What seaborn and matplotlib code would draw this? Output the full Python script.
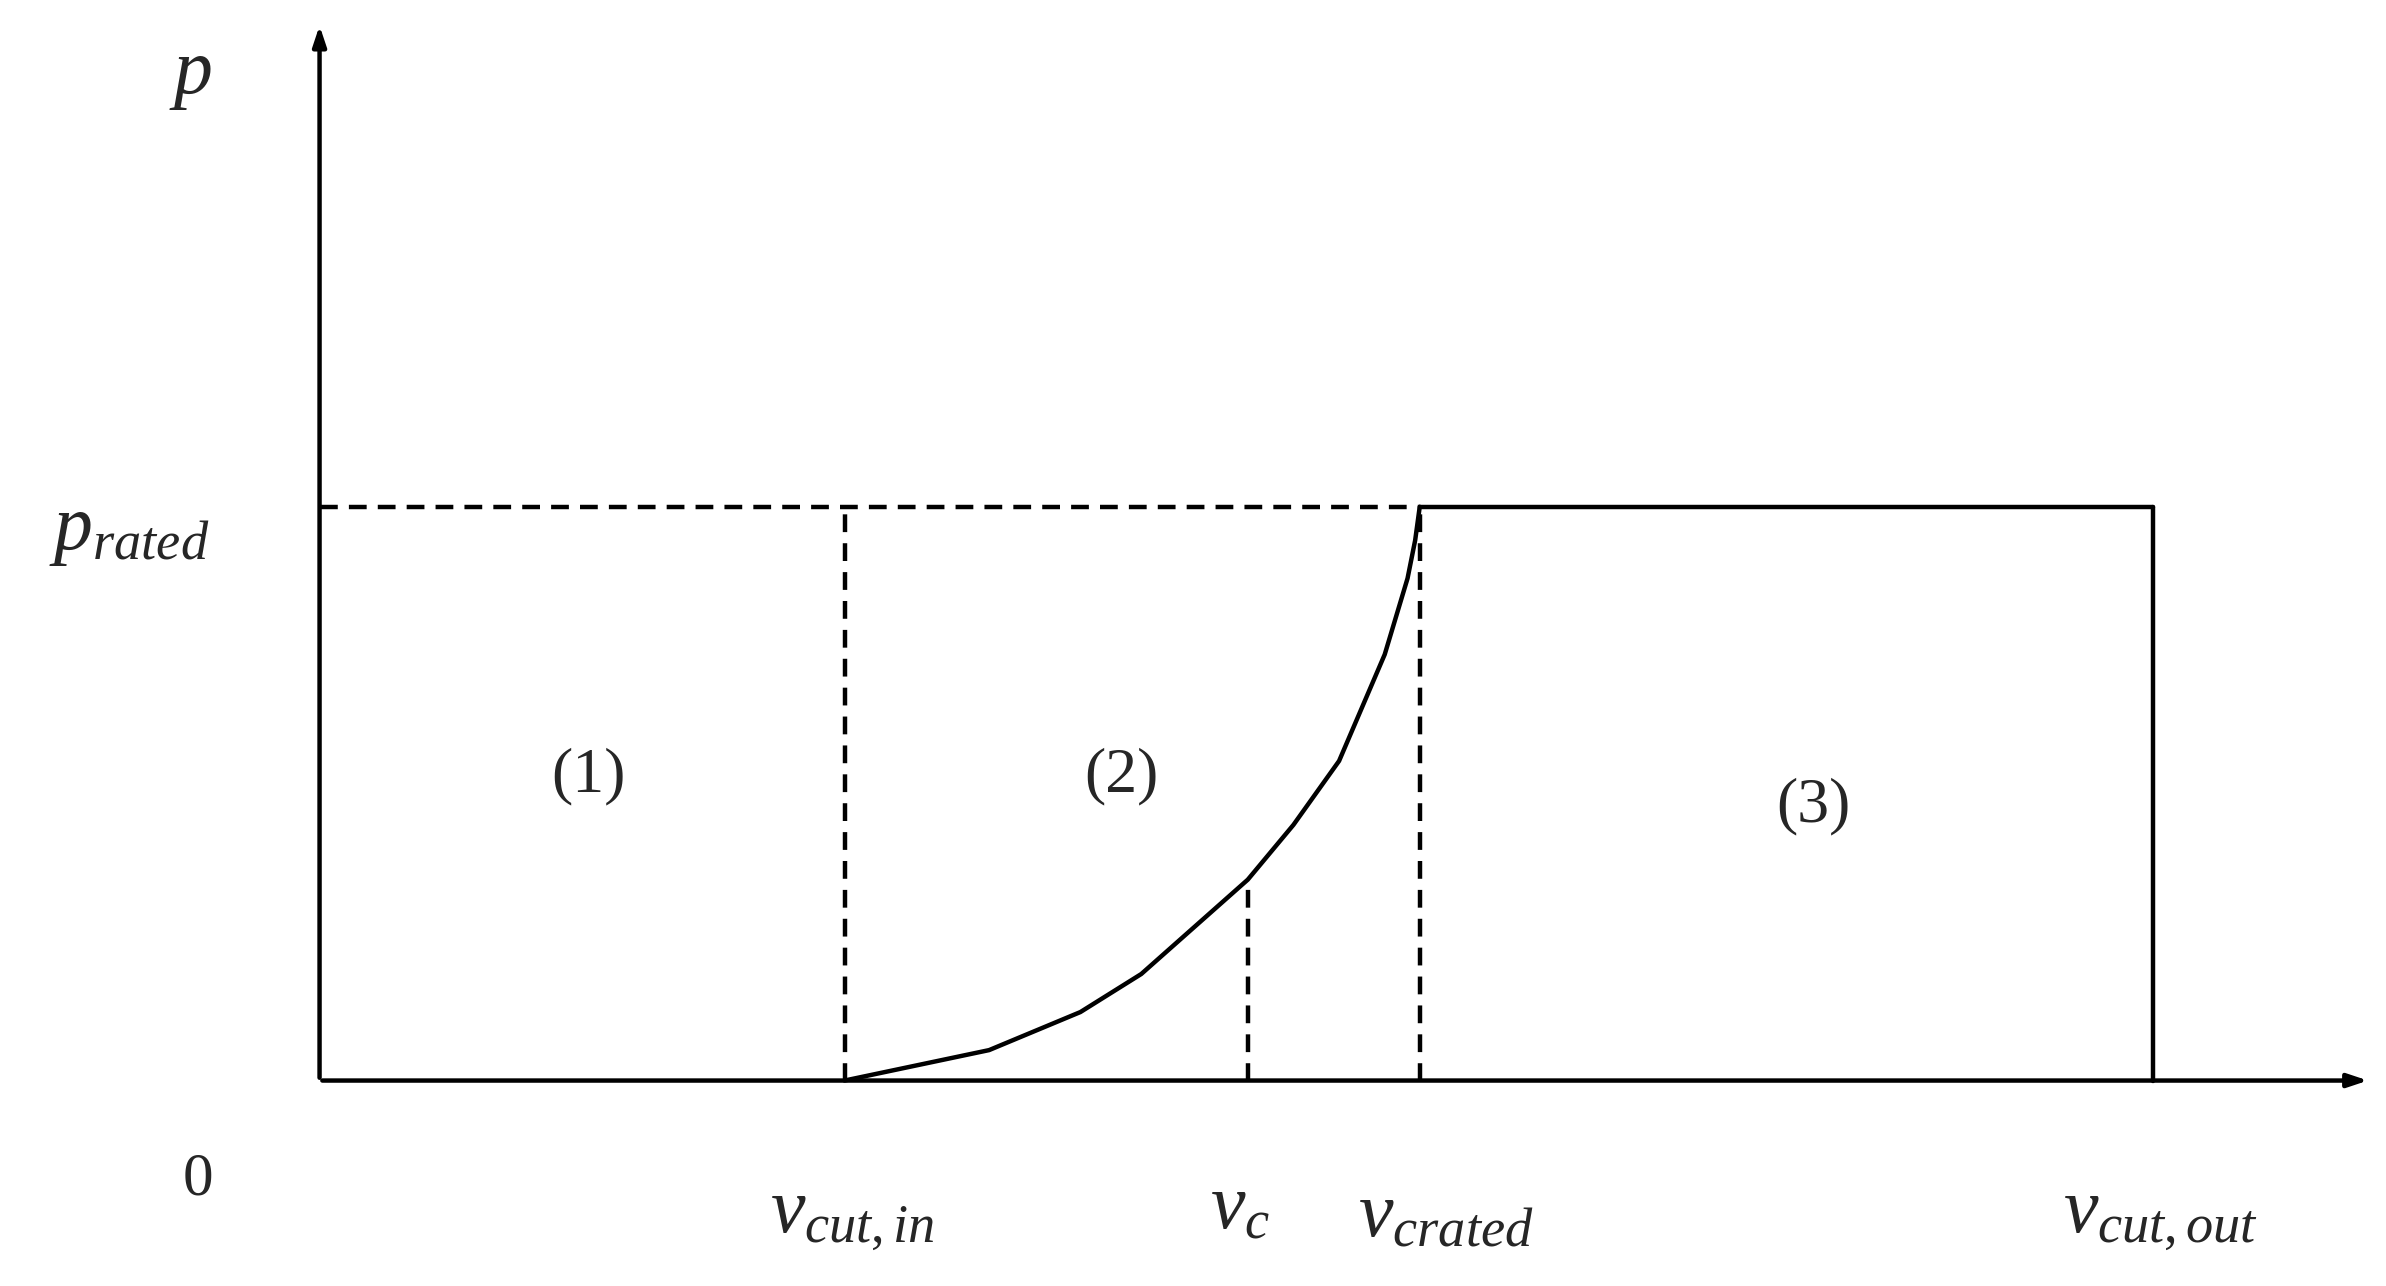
import numpy as np
import pandas as pd
import matplotlib
matplotlib.use("Agg")
import matplotlib.pyplot as plt
import seaborn as sns

# Key speeds / power (diagram units)
v_cut_in = 3.45
v_c = 6.10
v_crated = 7.23
v_cut_out = 12.05
p_rated = 3.77

# Power curve points (region 2)
curve_v = [3.45, 4.40, 5.00, 5.40, 6.10, 6.40, 6.70, 7.00, 7.15, 7.20, 7.23]
curve_p = [0.00, 0.20, 0.45, 0.70, 1.32, 1.68, 2.10, 2.80, 3.30, 3.55, 3.77]
p_at_vc = 1.32

region_labels = ["(1)", "(2)", "(3)"]
region_x = [1.77, 5.27, 9.82]
region_y = [2.0, 2.0, 1.8]

sns.set_style("white")
plt.rcParams["font.family"] = ["Liberation Serif", "DejaVu Serif"]
plt.rcParams["mathtext.fontset"] = "custom"
plt.rcParams["mathtext.rm"] = "Liberation Serif"
plt.rcParams["mathtext.it"] = "Liberation Serif:italic"

fig = plt.figure(figsize=(23.86, 12.86), dpi=100)
ax = fig.add_axes([0, 0, 1, 1])
ax.set_xlim(-2.10, 13.58)
ax.set_ylim(-1.35, 7.10)
ax.axis("off")

lw = 3.2
k = "black"

# axes with arrows
ax.annotate("", xy=(13.48, 0), xytext=(0, 0),
            arrowprops=dict(arrowstyle="-|>,head_length=1.2,head_width=0.4", lw=lw, color=k))
ax.annotate("", xy=(0, 6.95), xytext=(0, 0),
            arrowprops=dict(arrowstyle="-|>,head_length=1.2,head_width=0.4", lw=lw, color=k))

df = pd.DataFrame({"v": curve_v, "p": curve_p})
sns.lineplot(data=df, x="v", y="p", sort=False, color=k, lw=lw, ax=ax)

dash = (0, (4, 2.5))
ax.plot([0, v_crated], [p_rated, p_rated], color=k, lw=lw, linestyle=dash)
ax.plot([v_cut_in, v_cut_in], [0, p_rated], color=k, lw=lw, linestyle=dash)
ax.plot([v_c, v_c], [0, p_at_vc], color=k, lw=lw, linestyle=dash)
ax.plot([v_crated, v_crated], [0, p_rated], color=k, lw=lw, linestyle=dash)
ax.plot([v_crated, v_cut_out], [p_rated, p_rated], color=k, lw=lw)
ax.plot([v_cut_out, v_cut_out], [0, p_rated], color=k, lw=lw)

fs = 56
ax.text(-0.85, 6.6, "$p$", fontsize=fs, ha="center", va="center")
ax.text(-1.25, 3.6, "$p_{rated}$", fontsize=fs, ha="center", va="center")
ax.text(-0.8, -0.65, "0", fontsize=44, ha="center", va="center")
ax.text(v_cut_in + 0.05, -0.9, "$v_{cut,in}$", fontsize=fs, ha="center", va="center")
ax.text(v_c - 0.05, -0.85, "$v_c$", fontsize=fs, ha="center", va="center")
ax.text(v_crated + 0.17, -0.9, "$v_{crated}$", fontsize=fs, ha="center", va="center")
ax.text(v_cut_out + 0.05, -0.9, "$v_{cut,out}$", fontsize=fs, ha="center", va="center")

for lab, x, y in zip(region_labels, region_x, region_y):
    ax.text(x, y, lab, fontsize=46, ha="center", va="center")

fig.savefig("out.png", dpi=100)
